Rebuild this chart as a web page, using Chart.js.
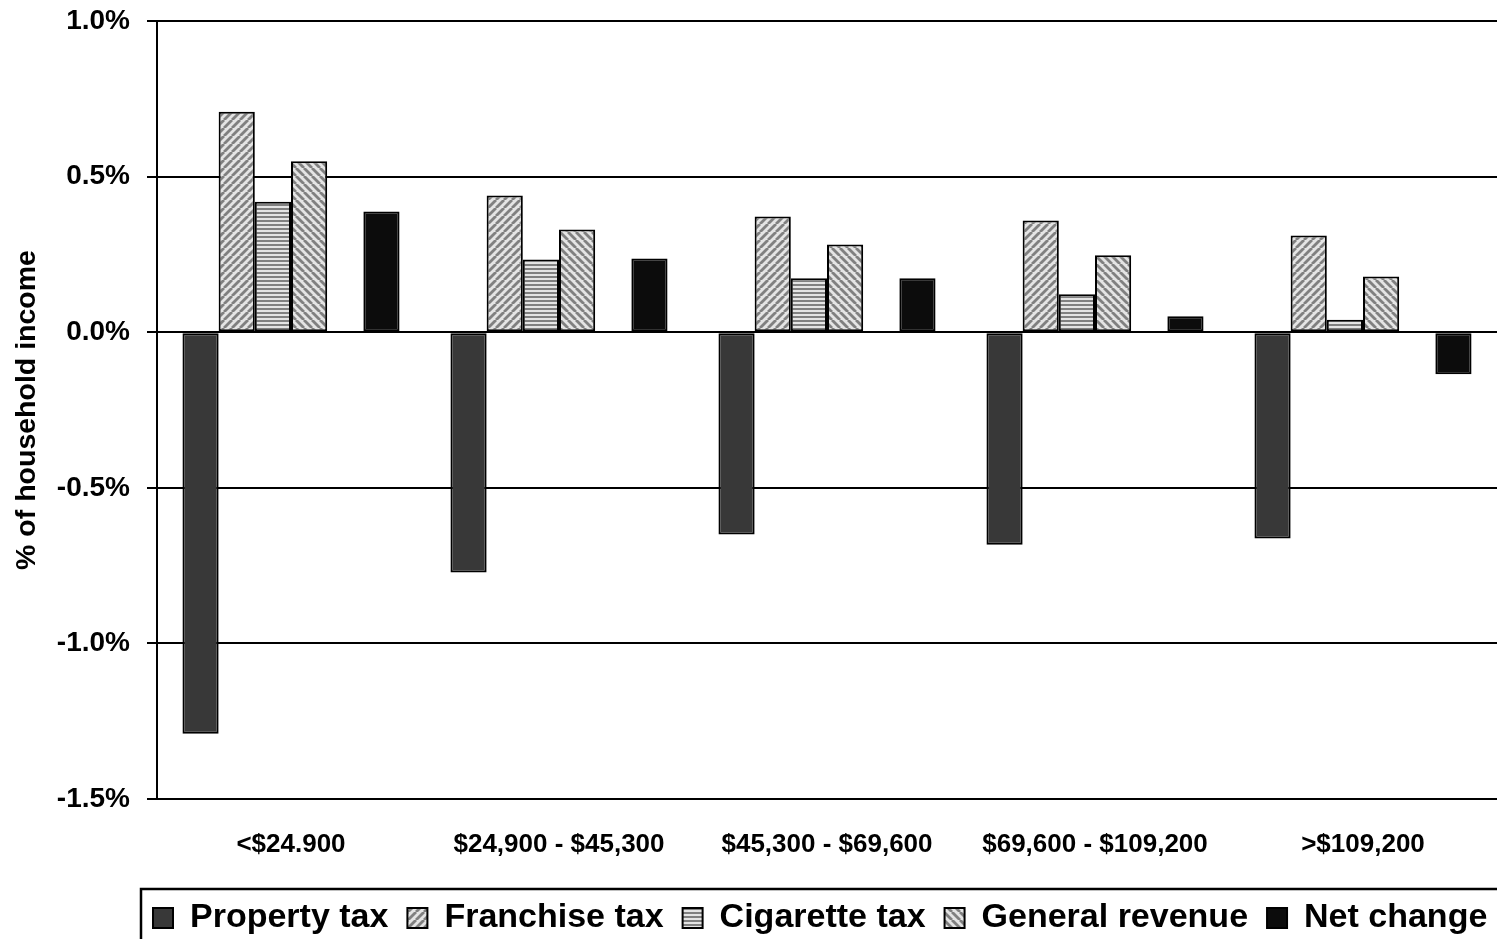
<!DOCTYPE html>
<html>
<head>
<meta charset="utf-8">
<script src="https://cdn.jsdelivr.net/npm/chart.js@4"></script>
<style>
  html, body { margin: 0; padding: 0; background: #fff; }
  #wrap { width: 1497px; height: 939px; }
</style>
</head>
<body>
<div id="wrap"><canvas id="chart" width="1497" height="939"></canvas></div>
<script>
const categories = ["<$24.900", "$24,900 - $45,300", "$45,300 - $69,600", "$69,600 - $109,200", ">$109,200"];
const propertyTax = [-1.29, -0.772, -0.65, -0.683, -0.663];
const franchiseTax = [0.708, 0.439, 0.372, 0.359, 0.311];
const cigaretteTax = [0.419, 0.234, 0.173, 0.122, 0.04];
const generalRevenue = [0.549, 0.33, 0.282, 0.247, 0.179];
const netChange = [0.388, 0.237, 0.173, 0.051, -0.135];
const spacer = [null, null, null, null, null];
const yTicks = [1.0, 0.5, 0.0, -0.5, -1.0, -1.5];

const FONT = "'Liberation Sans', Arial, sans-serif";

function makePattern(kind) {
  const size = 8;
  const c = document.createElement("canvas");
  c.width = size;
  c.height = kind === "horizontal" ? 4 : size;
  const g = c.getContext("2d");
  g.fillStyle = "#e4e4e4";
  g.fillRect(0, 0, c.width, c.height);
  g.strokeStyle = "#808080";
  g.lineWidth = 2.8;
  if (kind === "horizontal") {
    g.fillStyle = "#808080";
    g.fillRect(0, 0, size, 2);
  } else {
    for (let o = -size; o <= size; o += size) {
      g.beginPath();
      if (kind === "up") {
        g.moveTo(o, size);
        g.lineTo(o + size, 0);
      } else {
        g.moveTo(o, 0);
        g.lineTo(o + size, size);
      }
      g.stroke();
    }
  }
  return g.createPattern(c, "repeat");
}

const legendFrame = {
  id: "legendFrame",
  afterLayout(chart) {
    // shift the legend row to the right like the original
    chart.legend.left += 134;
    chart.legend.right += 134;
  },
  afterDraw(chart) {
    const ctx = chart.ctx;
    ctx.save();
    ctx.strokeStyle = "#000";
    ctx.lineWidth = 2.5;
    ctx.strokeRect(141, 889, 1420, 100);
    ctx.restore();
  }
};

const ctx = document.getElementById("chart").getContext("2d");

new Chart(ctx, {
  type: "bar",
  data: {
    labels: categories,
    datasets: [
      { label: "Property tax", data: propertyTax, backgroundColor: "#383838" },
      { label: "Franchise tax", data: franchiseTax, backgroundColor: makePattern("up") },
      { label: "Cigarette tax", data: cigaretteTax, backgroundColor: makePattern("horizontal") },
      { label: "General revenue", data: generalRevenue, backgroundColor: makePattern("down") },
      { label: "", data: spacer, backgroundColor: "#fff" },
      { label: "Net change", data: netChange, backgroundColor: "#0c0c0c" }
    ].map(d => Object.assign(d, { borderColor: "#000", borderWidth: 2, borderSkipped: false }))
  },
  options: {
    responsive: false,
    animation: false,
    layout: { padding: { top: 21, right: 0, bottom: -6, left: 0 } },
    datasets: { bar: { categoryPercentage: 0.81, barPercentage: 1.0 } },
    plugins: {
      tooltip: { enabled: false },
      legend: {
        position: "bottom",
        align: "start",
        labels: {
          filter: item => item.text !== "",
          boxWidth: 20,
          boxHeight: 20,
          padding: 19,
          color: "#000",
          font: { family: FONT, size: 34, weight: "bold" }
        }
      }
    },
    scales: {
      x: {
        grid: { display: false },
        border: { display: false },
        ticks: {
          color: "#000",
          padding: 22,
          maxRotation: 0,
          font: { family: FONT, size: 26, weight: "bold" }
        },
        afterFit: s => { s.height = 83; }
      },
      y: {
        min: -1.5,
        max: 1.0,
        afterBuildTicks: s => { s.ticks = yTicks.map(v => ({ value: v })); },
        grid: { color: "#000", lineWidth: 2, tickLength: 10, tickColor: "#000" },
        border: { display: true, color: "#000", width: 2 },
        ticks: {
          color: "#000",
          padding: 17,
          font: { family: FONT, size: 28, weight: "bold", lineHeight: 0.2 },
          callback: v => v.toFixed(1) + "%"
        },
        title: {
          display: true,
          text: "% of household income",
          color: "#000",
          padding: { top: 10, bottom: 0 },
          font: { family: FONT, size: 28.5, weight: "bold" }
        },
        afterFit: s => { s.width = 157; }
      }
    }
  },
  plugins: [legendFrame]
});
</script>
</body>
</html>
